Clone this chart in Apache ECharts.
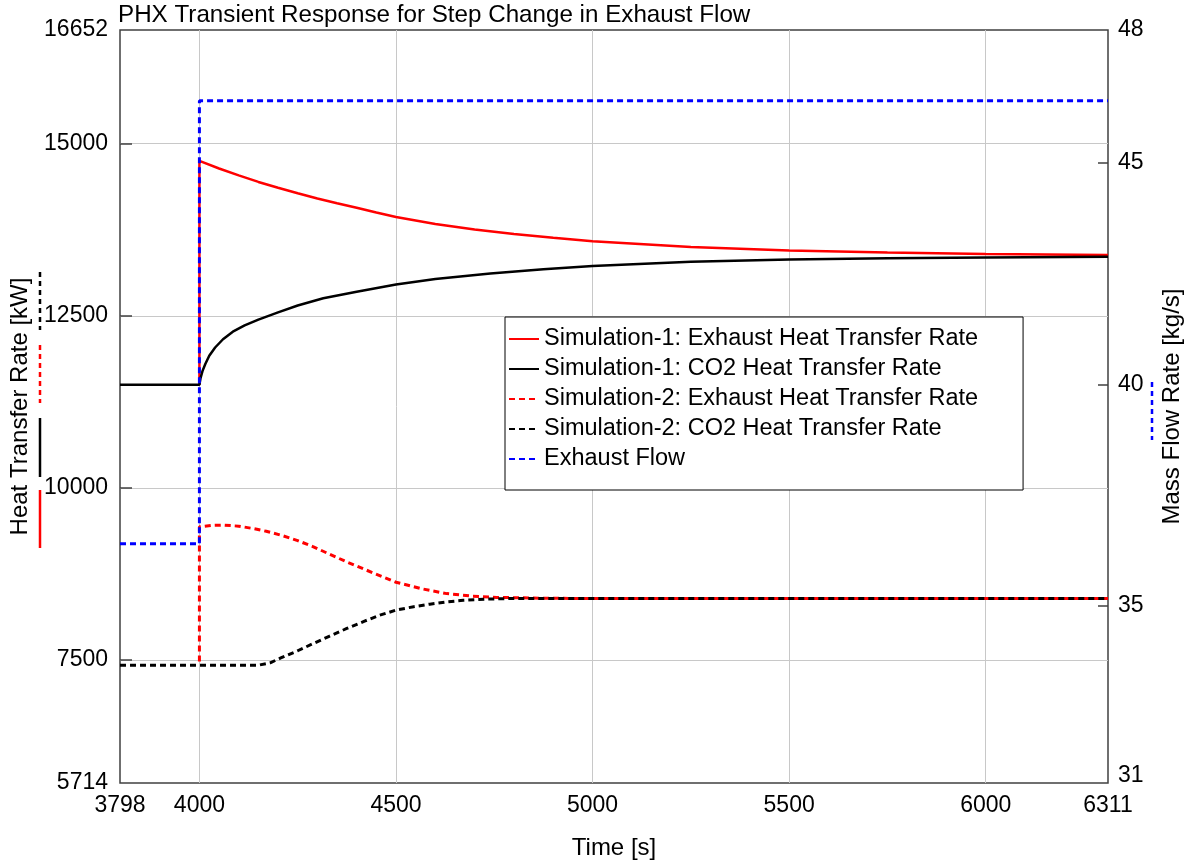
<!DOCTYPE html>
<html>
<head>
<meta charset="utf-8">
<script src="https://cdn.jsdelivr.net/npm/echarts@6/dist/echarts.min.js"></script>
<style>
  html, body { margin: 0; padding: 0; background: #fff; }
  #chart { width: 1184px; height: 867px; }
</style>
</head>
<body>
<div id="chart"></div>
<script>
  // values
  const sim1ExhaustTime = [4000, 4000, 4050, 4100, 4150, 4200, 4250, 4300, 4350, 4400, 4450, 4500, 4600, 4700, 4800, 4900, 5000, 5250, 5500, 5750, 6000, 6311];
  const sim1ExhaustRate = [11500, 14750, 14640, 14540, 14445, 14360, 14280, 14205, 14135, 14070, 14000, 13935, 13835, 13755, 13690, 13635, 13585, 13500, 13450, 13420, 13400, 13383];

  const sim1Co2Time = [3798, 4000, 4003, 4008, 4015, 4025, 4040, 4060, 4085, 4115, 4150, 4200, 4250, 4315, 4400, 4500, 4600, 4740, 4875, 5000, 5250, 5500, 5750, 6000, 6311];
  const sim1Co2Rate = [11500, 11500, 11600, 11700, 11800, 11920, 12040, 12160, 12270, 12360, 12445, 12550, 12650, 12755, 12850, 12955, 13035, 13115, 13175, 13225, 13285, 13318, 13337, 13347, 13358];

  const sim2ExhaustTime = [4000, 4000, 4030, 4061, 4100, 4137, 4170, 4207, 4250, 4290, 4330, 4375, 4440, 4500, 4570, 4629, 4690, 4756, 4883, 5000, 6311];
  const sim2ExhaustRate = [7480, 9435, 9455, 9460, 9445, 9410, 9370, 9315, 9235, 9145, 9040, 8925, 8770, 8630, 8530, 8465, 8430, 8410, 8397, 8394, 8394];

  const sim2Co2Time = [3798, 4150, 4180, 4207, 4250, 4290, 4330, 4375, 4420, 4459, 4500, 4545, 4586, 4630, 4671, 4730, 4798, 6311];
  const sim2Co2Rate = [7425, 7425, 7460, 7530, 7635, 7741, 7845, 7959, 8065, 8152, 8225, 8275, 8312, 8345, 8368, 8385, 8394, 8394];

  const flowTime = [3798, 4000, 4000, 6311];
  const flowRate = [36.4, 36.4, 46.4, 46.4];

  const xLabels = [3798, 4000, 4500, 5000, 5500, 6000, 6311];
  const xGrid = [4000, 4500, 5000, 5500, 6000];
  const leftLabels = [5714, 7500, 10000, 12500, 15000, 16652];
  const leftTicks = [7500, 10000, 12500, 15000];
  const rightLabels = [31, 35, 40, 45, 48];
  const rightTicks = [35, 40, 45];

  const FONT = "'Liberation Sans', Arial, sans-serif";
  const pairs = (t, v) => t.map((x, i) => [x, v[i]]);
  const plain = v => String(v);

  let chart = echarts.init(document.getElementById('chart'));
  let option = {
    animation: false,
    backgroundColor: '#fff',
    title: {
      text: 'PHX Transient Response for Step Change in Exhaust Flow',
      left: 118,
      top: 3,
      padding: 0,
      textStyle: { fontFamily: FONT, fontSize: 24.2, fontWeight: 'normal', color: '#000' }
    },
    grid: {
      left: 120, right: 76, top: 30, bottom: 84,
      show: true, borderColor: '#404040', borderWidth: 1.5,
      outerBoundsMode: 'none'
    },
    legend: {
      orient: 'vertical',
      left: 505,
      top: 317,
      padding: [10, 45, 19, 3],
      itemGap: 6,
      itemWidth: 30,
      itemHeight: 14,
      selectedMode: false,
      borderColor: '#000',
      borderWidth: 1,
      backgroundColor: '#fff',
      itemStyle: { opacity: 0 },
      textStyle: { fontFamily: FONT, fontSize: 23.5, lineHeight: 23, color: '#000' },
      data: [
        'Simulation-1: Exhaust Heat Transfer Rate',
        'Simulation-1: CO2 Heat Transfer Rate',
        'Simulation-2: Exhaust Heat Transfer Rate',
        'Simulation-2: CO2 Heat Transfer Rate',
        'Exhaust Flow'
      ]
    },
    xAxis: {
      type: 'value',
      min: 3798,
      max: 6311,
      name: 'Time [s]',
      nameLocation: 'middle',
      nameGap: 53,
      nameTextStyle: { fontFamily: FONT, fontSize: 24, color: '#000' },
      axisLine: { show: false },
      axisTick: { show: false, customValues: xGrid },
      axisLabel: { customValues: xLabels, formatter: plain, margin: 11, fontFamily: FONT, fontSize: 23, color: '#000' },
      splitLine: { show: true, customValues: xGrid, lineStyle: { color: '#c8c8c8', width: 1 } }
    },
    yAxis: [
      {
        type: 'value',
        position: 'left',
        min: 5714,
        max: 16652,
        name: 'Heat Transfer Rate [kW]',
        nameLocation: 'middle',
        nameGap: 88,
        nameTextStyle: { fontFamily: FONT, fontSize: 24, color: '#000' },
        axisLine: { show: false },
        axisTick: { show: true, inside: true, length: 12, customValues: leftTicks, lineStyle: { color: '#404040', width: 1.5 } },
        axisLabel: { customValues: leftLabels, formatter: plain, margin: 12, fontFamily: FONT, fontSize: 23, color: '#000' },
        splitLine: { show: true, customValues: leftTicks, lineStyle: { color: '#c8c8c8', width: 1 } }
      },
      {
        type: 'value',
        position: 'right',
        min: 31,
        max: 48,
        name: 'Mass Flow Rate [kg/s]',
        nameLocation: 'middle',
        nameGap: 52,
        nameTextStyle: { fontFamily: FONT, fontSize: 24, color: '#000' },
        axisLine: { show: false },
        axisTick: { show: true, inside: true, length: 10, customValues: rightTicks, lineStyle: { color: '#404040', width: 1.5 } },
        axisLabel: {
          customValues: rightLabels, margin: 10, fontFamily: FONT, fontSize: 23, color: '#000',
          formatter: v => v === 31 ? '{up|31}' : String(v),
          rich: { up: { fontFamily: FONT, fontSize: 23, color: '#000', padding: [0, 0, 14, 0] } }
        },
        splitLine: { show: false }
      }
    ],
    series: [
      {
        name: 'Simulation-2: Exhaust Heat Transfer Rate',
        type: 'line', yAxisIndex: 0, symbol: 'none',
        data: pairs(sim2ExhaustTime, sim2ExhaustRate),
        lineStyle: { color: '#ff0000', width: 3, type: [6, 4] },
        itemStyle: { color: '#ff0000' }
      },
      {
        name: 'Simulation-2: CO2 Heat Transfer Rate',
        type: 'line', yAxisIndex: 0, symbol: 'none',
        data: pairs(sim2Co2Time, sim2Co2Rate),
        lineStyle: { color: '#000000', width: 3, type: [6, 4] },
        itemStyle: { color: '#000000' }
      },
      {
        name: 'Simulation-1: Exhaust Heat Transfer Rate',
        type: 'line', yAxisIndex: 0, symbol: 'none',
        data: pairs(sim1ExhaustTime, sim1ExhaustRate),
        lineStyle: { color: '#ff0000', width: 2.5 },
        itemStyle: { color: '#ff0000' }
      },
      {
        name: 'Simulation-1: CO2 Heat Transfer Rate',
        type: 'line', yAxisIndex: 0, symbol: 'none',
        data: pairs(sim1Co2Time, sim1Co2Rate),
        lineStyle: { color: '#000000', width: 2.5 },
        itemStyle: { color: '#000000' }
      },
      {
        name: 'Exhaust Flow',
        type: 'line', yAxisIndex: 1, symbol: 'none',
        data: pairs(flowTime, flowRate),
        lineStyle: { color: '#0000ff', width: 3, type: [6, 4] },
        itemStyle: { color: '#0000ff' }
      }
    ],
    // line keys beside the axis titles
    graphic: [
      { type: 'line', shape: { x1: 40, y1: 272, x2: 40, y2: 330 }, style: { stroke: '#000', lineWidth: 2.5, lineDash: [5, 4] } },
      { type: 'line', shape: { x1: 40, y1: 345, x2: 40, y2: 403 }, style: { stroke: '#ff0000', lineWidth: 2.5, lineDash: [5, 4] } },
      { type: 'line', shape: { x1: 40, y1: 418, x2: 40, y2: 477 }, style: { stroke: '#000', lineWidth: 2.5 } },
      { type: 'line', shape: { x1: 40, y1: 490, x2: 40, y2: 548 }, style: { stroke: '#ff0000', lineWidth: 2.5 } },
      { type: 'line', shape: { x1: 1152, y1: 382, x2: 1152, y2: 440 }, style: { stroke: '#0000ff', lineWidth: 2.5, lineDash: [5, 4] } }
    ]
  };
  chart.setOption(option);
</script>
</body>
</html>
